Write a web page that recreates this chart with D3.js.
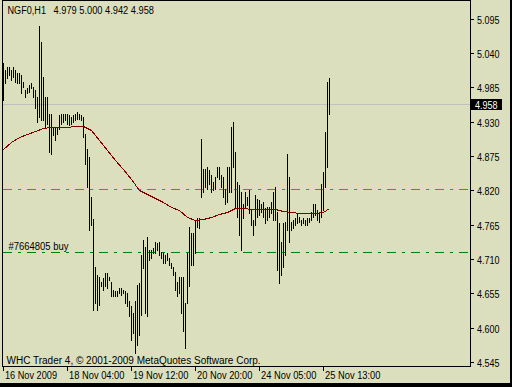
<!DOCTYPE html>
<html>
<head>
<meta charset="utf-8">
<script src="https://cdn.jsdelivr.net/npm/d3@7"></script>
<style>
html, body { margin: 0; padding: 0; background: #000; }
svg { display: block; }
text { font-family: "Liberation Sans", Arial, sans-serif; font-size: 10px; fill: #000; }
</style>
</head>
<body>
<svg id="chart" width="512" height="387"></svg>
<script>
'use strict';

// NGF0, H1 bars (high / low), oldest first
const highs = [
    5.024, 5.013, 5.018, 5.018, 5.013, 5.018, 5.013, 5.008, 5.008, 5.005,
    4.994, 4.981, 4.984, 4.989, 4.992, 4.986, 4.981, 4.970, 5.083, 5.058,
    5.002, 4.970, 4.970, 4.943, 4.943, 4.922, 4.922, 4.922, 4.941, 4.943,
    4.943, 4.943, 4.943, 4.941, 4.938, 4.941, 4.943, 4.946, 4.943, 4.941,
    4.938, 4.911, 4.887, 4.874, 4.810, 4.774, 4.698, 4.685, 4.682, 4.674,
    4.679, 4.687, 4.687, 4.682, 4.674, 4.660, 4.658, 4.658, 4.663, 4.663,
    4.660, 4.658, 4.655, 4.642, 4.634, 4.623, 4.642, 4.668, 4.671, 4.717,
    4.741, 4.730, 4.746, 4.725, 4.725, 4.727, 4.738, 4.735, 4.738, 4.722,
    4.719, 4.717, 4.719, 4.711, 4.703, 4.698, 4.690, 4.674, 4.682, 4.682,
    4.682, 4.639, 4.719, 4.762, 4.751, 4.751, 4.773, 4.775, 4.775, 4.903,
    4.855, 4.855, 4.858, 4.853, 4.845, 4.834, 4.842, 4.858, 4.858, 4.845,
    4.842, 4.823, 4.858, 4.858, 4.922, 4.930, 4.882, 4.834, 4.829, 4.818,
    4.799, 4.818, 4.810, 4.820, 4.789, 4.773, 4.813, 4.807, 4.805, 4.799,
    4.802, 4.791, 4.794, 4.794, 4.802, 4.818, 4.826, 4.786, 4.767, 4.738,
    4.767, 4.770, 4.879, 4.842, 4.770, 4.773, 4.775, 4.783, 4.778, 4.773,
    4.775, 4.773, 4.775, 4.775, 4.786, 4.799, 4.799, 4.789, 4.783, 4.831,
    4.850, 4.914, 4.994, 5.000
];
const lows = [
    4.965, 4.992, 5.000, 5.005, 4.997, 5.002, 4.994, 4.992, 4.992, 4.976,
    4.986, 4.970, 4.976, 4.978, 4.984, 4.970, 4.952, 4.930, 4.938, 4.933,
    4.933, 4.922, 4.927, 4.882, 4.879, 4.909, 4.901, 4.911, 4.919, 4.927,
    4.930, 4.933, 4.927, 4.925, 4.927, 4.930, 4.933, 4.935, 4.935, 4.933,
    4.906, 4.863, 4.826, 4.757, 4.765, 4.628, 4.639, 4.628, 4.636, 4.666,
    4.660, 4.666, 4.663, 4.676, 4.650, 4.650, 4.650, 4.650, 4.655, 4.652,
    4.655, 4.639, 4.634, 4.618, 4.580, 4.591, 4.559, 4.572, 4.588, 4.620,
    4.695, 4.623, 4.618, 4.709, 4.711, 4.719, 4.719, 4.725, 4.717, 4.711,
    4.703, 4.703, 4.709, 4.701, 4.695, 4.685, 4.660, 4.650, 4.655, 4.623,
    4.594, 4.567, 4.639, 4.666, 4.701, 4.701, 4.719, 4.762, 4.759, 4.810,
    4.818, 4.826, 4.823, 4.831, 4.818, 4.821, 4.823, 4.842, 4.839, 4.826,
    4.810, 4.799, 4.802, 4.818, 4.818, 4.858, 4.791, 4.778, 4.749, 4.725,
    4.775, 4.791, 4.797, 4.784, 4.765, 4.749, 4.765, 4.778, 4.781, 4.786,
    4.778, 4.767, 4.773, 4.778, 4.783, 4.773, 4.773, 4.692, 4.671, 4.685,
    4.698, 4.717, 4.757, 4.738, 4.757, 4.759, 4.765, 4.767, 4.770, 4.765,
    4.767, 4.765, 4.765, 4.770, 4.773, 4.778, 4.781, 4.773, 4.770, 4.778,
    4.789, 4.826, 4.858, 4.942
];

// moving average, read at every 4th bar (+ last bar)
const maBars = [0, 4, 8, 12, 16, 20, 24, 28, 32, 36, 40, 44, 48, 52, 56, 60, 64, 68, 72, 76,
    80, 84, 88, 92, 96, 100, 104, 108, 112, 116, 120, 124, 128, 132, 136, 140, 144, 148, 152, 156, 160, 163];
const maValues = [4.887, 4.898, 4.905, 4.910, 4.915, 4.920, 4.922, 4.922, 4.922, 4.923,
    4.923, 4.917, 4.900, 4.884, 4.868, 4.854, 4.839, 4.821, 4.814, 4.808,
    4.801, 4.794, 4.788, 4.777, 4.773, 4.774, 4.778, 4.782, 4.786, 4.791,
    4.791, 4.790, 4.790, 4.790, 4.790, 4.787, 4.785, 4.784, 4.783, 4.783, 4.785, 4.792];

const priceTicks = [5.095, 5.040, 4.985, 4.930, 4.875, 4.820, 4.765, 4.710, 4.655, 4.600, 4.545];
const timeTickBars = [0, 32, 64, 96, 128, 160];
const timeTickLabels = ["16 Nov 2009", "18 Nov 04:00", "19 Nov 12:00", "20 Nov 20:00", "24 Nov 05:00", "25 Nov 13:00"];

const symbolLabel = "NGF0,H1";
const ohlcLabel = "4.979 5.000 4.942 4.958";
const bid = 4.958;
const redLevel = 4.823;   // orange-red dash-dot line
const orderLevel = 4.722; // #7664805 buy
const orderLabel = "#7664805 buy";
const copyright = "WHC Trader 4, \u00a9 2001-2009 MetaQuotes Software Corp.";

// squeeze a label to the width it has in the picture
function fit(sel, w) {
    return sel.attr("textLength", w).attr("lengthAdjust", "spacingAndGlyphs");
}

function main() {
    const svg = d3.select("#chart");
    const bg = "#dcdfbd";
    const plot = {left: 2, top: 0, right: 470, bottom: 366};

    // window + black edge
    svg.append("rect").attr("width", 512).attr("height", 387).attr("fill", "#000");
    svg.append("rect").attr("width", 510).attr("height", 383).attr("fill", bg);

    const x = d3.scaleLinear().domain([0, highs.length - 1]).range([3, 3 + 2 * (highs.length - 1)]);
    const y = d3.scaleLinear().domain([4.545, 5.095]).range([362, 18.8]);
    const px = v => Math.round(x(v)) + 0.5;
    const py = v => Math.round(y(v)) + 0.5;

    // bid line
    svg.append("rect")
        .attr("x", plot.left).attr("width", plot.right - plot.left)
        .attr("y", Math.round(y(bid))).attr("height", 1)
        .attr("fill", "#c0c0c0");

    // horizontal levels, dash-dot
    const levels = [redLevel, orderLevel];
    const levelColors = ["#ff4500", "#008000"];
    const dash = [9, 6, 3, 6];
    levels.forEach((v, k) => {
        const segs = [];
        let pos = plot.left + 1, j = 0;
        while (pos < plot.right) {
            if (j % 2 == 0) segs.push([pos, Math.min(pos + dash[j % 4], plot.right)]);
            pos += dash[j % 4];
            j++;
        }
        svg.selectAll(".lv" + k).data(segs).enter().append("rect")
            .attr("class", "lv" + k)
            .attr("x", d => d[0]).attr("width", d => d[1] - d[0])
            .attr("y", Math.round(y(v))).attr("height", 1)
            .attr("fill", levelColors[k]);
    });

    // bars
    svg.selectAll(".bar").data(highs).enter().append("rect")
        .attr("class", "bar")
        .attr("x", (d, i) => Math.round(x(i))).attr("width", 1)
        .attr("y", d => Math.round(y(d)))
        .attr("height", (d, i) => Math.round(y(lows[i])) - Math.round(y(d)) + 1)
        .attr("fill", "#000");

    // moving average, aliased like the terminal draws it
    const ma = maBars.map((b, i) => [b, maValues[i]]);
    svg.append("path")
        .datum(ma)
        .attr("d", d3.line().x(d => x(d[0]) + 0.5).y(d => Math.round(y(d[1])) + 0.5))
        .attr("fill", "none")
        .attr("stroke", "#800000")
        .attr("stroke-width", 1)
        .attr("shape-rendering", "crispEdges");

    // frame
    svg.append("path")
        .attr("d", `M${plot.left + 0.5},${plot.top + 0.5}H${plot.right + 0.5}V${plot.bottom + 0.5}H${plot.left + 0.5}Z`)
        .attr("fill", "none")
        .attr("stroke", "#000")
        .attr("shape-rendering", "crispEdges");

    // price axis
    const ya = svg.append("g");
    priceTicks.forEach(v => {
        ya.append("rect")
            .attr("x", plot.right + 1).attr("width", 3)
            .attr("y", Math.round(y(v))).attr("height", 1)
            .attr("fill", "#000");
        fit(ya.append("text")
            .attr("x", plot.right + 7).attr("y", py(v) + 4)
            .text(v.toFixed(3)), 22.5);
    });

    // bid marker
    ya.append("rect")
        .attr("x", plot.right + 1).attr("y", py(bid) - 5.5)
        .attr("width", 31).attr("height", 11)
        .attr("fill", "#000");
    fit(ya.append("text")
        .attr("x", plot.right + 5).attr("y", py(bid) + 4)
        .style("fill", "#fff")
        .text(bid.toFixed(3)), 22.5);

    // time axis
    const xa = svg.append("g");
    timeTickBars.forEach((b, i) => {
        xa.append("rect")
            .attr("x", Math.round(x(b))).attr("width", 1)
            .attr("y", plot.bottom + 1).attr("height", 4)
            .attr("fill", "#000");
        fit(xa.append("text")
            .attr("x", px(b) + 1.5).attr("y", 379)
            .text(timeTickLabels[i]), i == 0 ? 52 : 55.5);
    });

    // texts
    fit(svg.append("text").attr("x", 7.5).attr("y", 14).text(symbolLabel), 38.5);
    fit(svg.append("text").attr("x", 53.5).attr("y", 14).text(ohlcLabel), 100.5);
    fit(svg.append("text").attr("x", 8.5).attr("y", py(orderLevel) - 3).text(orderLabel), 60);
    svg.append("text").attr("x", 6.5).attr("y", 364).text(copyright);
}

main();
</script>
</body>
</html>
